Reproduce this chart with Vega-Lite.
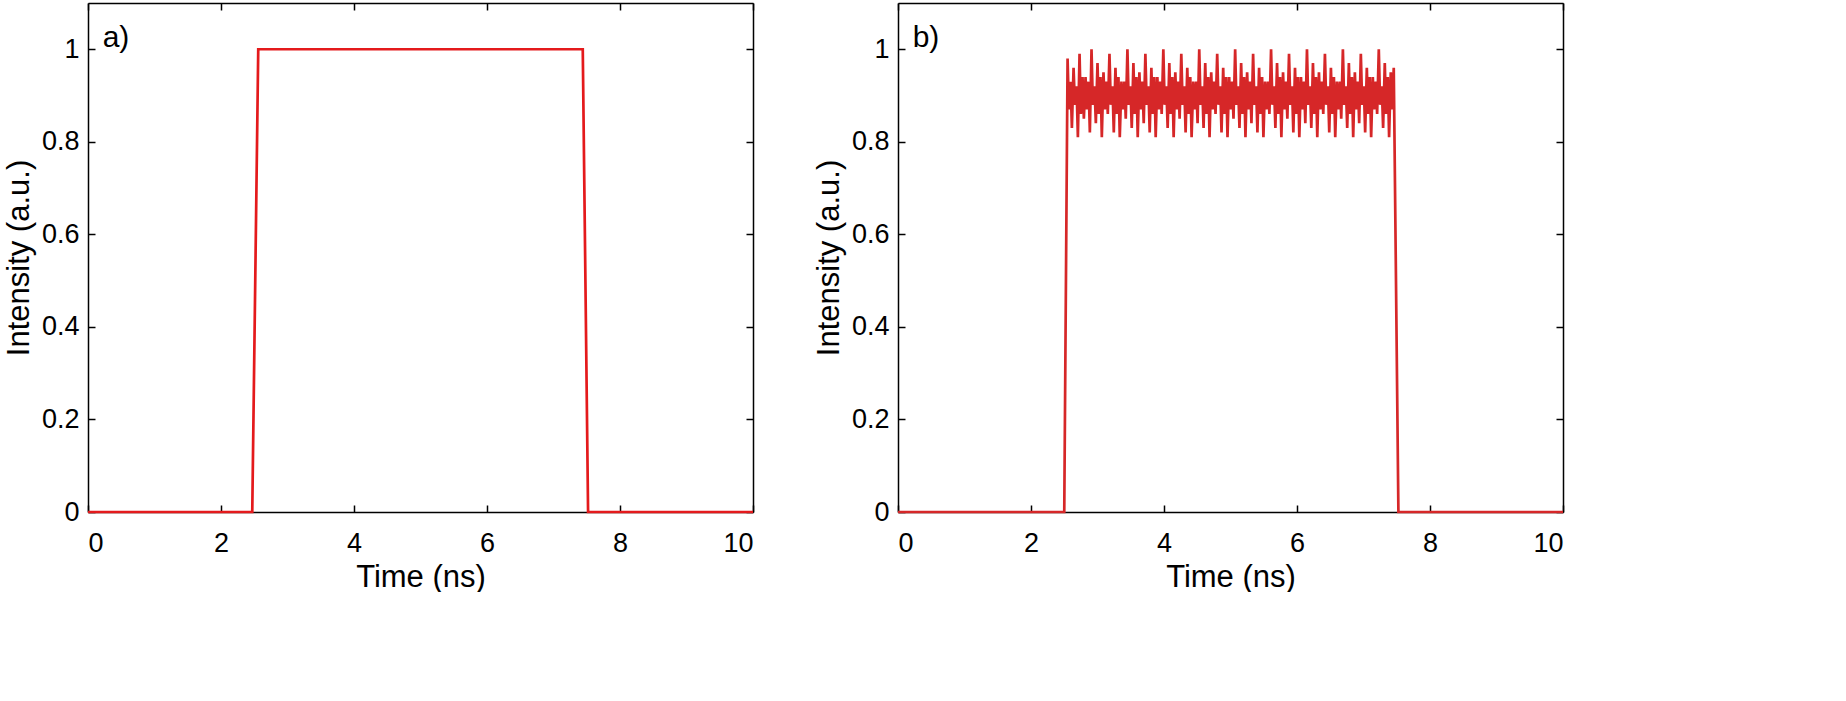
{
  "$schema": "https://vega.github.io/schema/vega-lite/v6.json",
  "background": "white",
  "padding": {"left": 3, "top": 2, "right": 0, "bottom": 0},
  "spacing": 54,
  "config": {
    "font": "Liberation Sans",
    "view": {"stroke": null},
    "axis": {
      "grid": false,
      "domainColor": "black",
      "domainWidth": 1.5,
      "tickColor": "black",
      "tickWidth": 1.5,
      "tickSize": -7,
      "labelColor": "black",
      "labelFontSize": 27,
      "titleColor": "black",
      "titleFontSize": 31,
      "titleFontWeight": "normal"
    },
    "axisX": {"labelPadding": 25, "titlePadding": 6},
    "axisY": {"labelPadding": 16, "titlePadding": 6}
  },
  "datasets": {
    "pulse": [
      {"t": 0, "v": 0}, {"t": 2.47, "v": 0}, {"t": 2.56, "v": 1},
      {"t": 7.44, "v": 1}, {"t": 7.52, "v": 0}, {"t": 10, "v": 0}
    ],
    "noisy": [
      {"t": 0, "v": 0}, {"t": 2.5, "v": 0},
      {"t": 2.55, "v": 0.98}, {"t": 2.57, "v": 0.87}, {"t": 2.595, "v": 0.93}, {"t": 2.615, "v": 0.83},
      {"t": 2.64, "v": 0.96}, {"t": 2.66, "v": 0.88}, {"t": 2.685, "v": 0.92}, {"t": 2.705, "v": 0.81},
      {"t": 2.73, "v": 0.99}, {"t": 2.75, "v": 0.86}, {"t": 2.775, "v": 0.94}, {"t": 2.795, "v": 0.85},
      {"t": 2.82, "v": 0.94}, {"t": 2.84, "v": 0.87}, {"t": 2.865, "v": 0.93}, {"t": 2.885, "v": 0.82},
      {"t": 2.91, "v": 1.0}, {"t": 2.93, "v": 0.88}, {"t": 2.955, "v": 0.92}, {"t": 2.975, "v": 0.84},
      {"t": 3.0, "v": 0.97}, {"t": 3.02, "v": 0.86}, {"t": 3.045, "v": 0.94}, {"t": 3.065, "v": 0.81},
      {"t": 3.09, "v": 0.95}, {"t": 3.11, "v": 0.87}, {"t": 3.135, "v": 0.93}, {"t": 3.155, "v": 0.86},
      {"t": 3.18, "v": 0.99}, {"t": 3.2, "v": 0.88}, {"t": 3.225, "v": 0.92}, {"t": 3.245, "v": 0.82},
      {"t": 3.27, "v": 0.96}, {"t": 3.29, "v": 0.86}, {"t": 3.315, "v": 0.94}, {"t": 3.335, "v": 0.81},
      {"t": 3.36, "v": 0.93}, {"t": 3.38, "v": 0.87}, {"t": 3.405, "v": 0.93}, {"t": 3.425, "v": 0.85},
      {"t": 3.45, "v": 1.0}, {"t": 3.47, "v": 0.88}, {"t": 3.495, "v": 0.92}, {"t": 3.515, "v": 0.83},
      {"t": 3.54, "v": 0.97}, {"t": 3.56, "v": 0.86}, {"t": 3.585, "v": 0.94}, {"t": 3.605, "v": 0.81},
      {"t": 3.63, "v": 0.95}, {"t": 3.65, "v": 0.87}, {"t": 3.675, "v": 0.93}, {"t": 3.695, "v": 0.84},
      {"t": 3.72, "v": 0.99}, {"t": 3.74, "v": 0.88}, {"t": 3.765, "v": 0.92}, {"t": 3.785, "v": 0.82},
      {"t": 3.81, "v": 0.96}, {"t": 3.83, "v": 0.86}, {"t": 3.855, "v": 0.94}, {"t": 3.875, "v": 0.81},
      {"t": 3.9, "v": 0.94}, {"t": 3.92, "v": 0.87}, {"t": 3.945, "v": 0.93}, {"t": 3.965, "v": 0.86},
      {"t": 3.99, "v": 1.0}, {"t": 4.01, "v": 0.88}, {"t": 4.035, "v": 0.92}, {"t": 4.055, "v": 0.83},
      {"t": 4.08, "v": 0.97}, {"t": 4.1, "v": 0.86}, {"t": 4.125, "v": 0.94}, {"t": 4.145, "v": 0.81},
      {"t": 4.17, "v": 0.95}, {"t": 4.19, "v": 0.87}, {"t": 4.215, "v": 0.93}, {"t": 4.235, "v": 0.85},
      {"t": 4.26, "v": 0.99}, {"t": 4.28, "v": 0.88}, {"t": 4.305, "v": 0.92}, {"t": 4.325, "v": 0.82},
      {"t": 4.35, "v": 0.96}, {"t": 4.37, "v": 0.86}, {"t": 4.395, "v": 0.94}, {"t": 4.415, "v": 0.81},
      {"t": 4.44, "v": 0.93}, {"t": 4.46, "v": 0.87}, {"t": 4.485, "v": 0.93}, {"t": 4.505, "v": 0.84},
      {"t": 4.53, "v": 1.0}, {"t": 4.55, "v": 0.88}, {"t": 4.575, "v": 0.92}, {"t": 4.595, "v": 0.83},
      {"t": 4.62, "v": 0.97}, {"t": 4.64, "v": 0.86}, {"t": 4.665, "v": 0.94}, {"t": 4.685, "v": 0.81},
      {"t": 4.71, "v": 0.95}, {"t": 4.73, "v": 0.87}, {"t": 4.755, "v": 0.93}, {"t": 4.775, "v": 0.86},
      {"t": 4.8, "v": 0.99}, {"t": 4.82, "v": 0.88}, {"t": 4.845, "v": 0.92}, {"t": 4.865, "v": 0.82},
      {"t": 4.89, "v": 0.96}, {"t": 4.91, "v": 0.86}, {"t": 4.935, "v": 0.94}, {"t": 4.955, "v": 0.81},
      {"t": 4.98, "v": 0.94}, {"t": 5.0, "v": 0.87}, {"t": 5.025, "v": 0.93}, {"t": 5.045, "v": 0.85},
      {"t": 5.07, "v": 1.0}, {"t": 5.09, "v": 0.88}, {"t": 5.115, "v": 0.92}, {"t": 5.135, "v": 0.83},
      {"t": 5.16, "v": 0.97}, {"t": 5.18, "v": 0.86}, {"t": 5.205, "v": 0.94}, {"t": 5.225, "v": 0.81},
      {"t": 5.25, "v": 0.95}, {"t": 5.27, "v": 0.87}, {"t": 5.295, "v": 0.93}, {"t": 5.315, "v": 0.84},
      {"t": 5.34, "v": 0.99}, {"t": 5.36, "v": 0.88}, {"t": 5.385, "v": 0.92}, {"t": 5.405, "v": 0.82},
      {"t": 5.43, "v": 0.96}, {"t": 5.45, "v": 0.86}, {"t": 5.475, "v": 0.94}, {"t": 5.495, "v": 0.81},
      {"t": 5.52, "v": 0.93}, {"t": 5.54, "v": 0.87}, {"t": 5.565, "v": 0.93}, {"t": 5.585, "v": 0.86},
      {"t": 5.61, "v": 1.0}, {"t": 5.63, "v": 0.88}, {"t": 5.655, "v": 0.92}, {"t": 5.675, "v": 0.83},
      {"t": 5.7, "v": 0.97}, {"t": 5.72, "v": 0.86}, {"t": 5.745, "v": 0.94}, {"t": 5.765, "v": 0.81},
      {"t": 5.79, "v": 0.95}, {"t": 5.81, "v": 0.87}, {"t": 5.835, "v": 0.93}, {"t": 5.855, "v": 0.85},
      {"t": 5.88, "v": 0.99}, {"t": 5.9, "v": 0.88}, {"t": 5.925, "v": 0.92}, {"t": 5.945, "v": 0.82},
      {"t": 5.97, "v": 0.96}, {"t": 5.99, "v": 0.86}, {"t": 6.015, "v": 0.94}, {"t": 6.035, "v": 0.81},
      {"t": 6.06, "v": 0.94}, {"t": 6.08, "v": 0.87}, {"t": 6.105, "v": 0.93}, {"t": 6.125, "v": 0.84},
      {"t": 6.15, "v": 1.0}, {"t": 6.17, "v": 0.88}, {"t": 6.195, "v": 0.92}, {"t": 6.215, "v": 0.83},
      {"t": 6.24, "v": 0.97}, {"t": 6.26, "v": 0.86}, {"t": 6.285, "v": 0.94}, {"t": 6.305, "v": 0.81},
      {"t": 6.33, "v": 0.95}, {"t": 6.35, "v": 0.87}, {"t": 6.375, "v": 0.93}, {"t": 6.395, "v": 0.86},
      {"t": 6.42, "v": 0.99}, {"t": 6.44, "v": 0.88}, {"t": 6.465, "v": 0.92}, {"t": 6.485, "v": 0.82},
      {"t": 6.51, "v": 0.96}, {"t": 6.53, "v": 0.86}, {"t": 6.555, "v": 0.94}, {"t": 6.575, "v": 0.81},
      {"t": 6.6, "v": 0.93}, {"t": 6.62, "v": 0.87}, {"t": 6.645, "v": 0.93}, {"t": 6.665, "v": 0.85},
      {"t": 6.69, "v": 1.0}, {"t": 6.71, "v": 0.88}, {"t": 6.735, "v": 0.92}, {"t": 6.755, "v": 0.83},
      {"t": 6.78, "v": 0.97}, {"t": 6.8, "v": 0.86}, {"t": 6.825, "v": 0.94}, {"t": 6.845, "v": 0.81},
      {"t": 6.87, "v": 0.95}, {"t": 6.89, "v": 0.87}, {"t": 6.915, "v": 0.93}, {"t": 6.935, "v": 0.84},
      {"t": 6.96, "v": 0.99}, {"t": 6.98, "v": 0.88}, {"t": 7.005, "v": 0.92}, {"t": 7.025, "v": 0.82},
      {"t": 7.05, "v": 0.96}, {"t": 7.07, "v": 0.86}, {"t": 7.095, "v": 0.94}, {"t": 7.115, "v": 0.81},
      {"t": 7.14, "v": 0.94}, {"t": 7.16, "v": 0.87}, {"t": 7.185, "v": 0.93}, {"t": 7.205, "v": 0.86},
      {"t": 7.23, "v": 1.0}, {"t": 7.25, "v": 0.88}, {"t": 7.275, "v": 0.92}, {"t": 7.295, "v": 0.83},
      {"t": 7.32, "v": 0.97}, {"t": 7.34, "v": 0.86}, {"t": 7.365, "v": 0.94}, {"t": 7.385, "v": 0.81},
      {"t": 7.41, "v": 0.95}, {"t": 7.43, "v": 0.87}, {"t": 7.455, "v": 0.96},
      {"t": 7.525, "v": 0}, {"t": 10, "v": 0}
    ]
  },
  "hconcat": [
    {
      "width": 665,
      "height": 509,
      "resolve": {"scale": {"x": "independent", "y": "independent"}},
      "layer": [
        {
          "data": {"name": "pulse"},
          "mark": {"type": "line", "color": "#e41a1c", "strokeWidth": 2.7},
          "encoding": {
            "x": {"field": "t", "type": "quantitative", "scale": {"domain": [0, 10], "nice": false},
                  "axis": {"orient": "bottom", "values": [0, 2, 4, 6, 8, 10], "format": "d", "title": "Time (ns)"}},
            "y": {"field": "v", "type": "quantitative", "scale": {"domain": [0, 1.1], "nice": false},
                  "axis": {"orient": "left", "values": [0, 0.2, 0.4, 0.6, 0.8, 1], "format": "~g", "title": "Intensity (a.u.)"}}
          }
        },
        {
          "data": {"name": "pulse"},
          "mark": {"type": "line", "strokeOpacity": 0},
          "encoding": {
            "x": {"field": "t", "type": "quantitative", "scale": {"domain": [0, 10], "nice": false},
                  "axis": {"orient": "top", "values": [0, 2, 4, 6, 8, 10], "labels": false, "title": null}},
            "y": {"field": "v", "type": "quantitative", "scale": {"domain": [0, 1.1], "nice": false},
                  "axis": {"orient": "right", "values": [0, 0.2, 0.4, 0.6, 0.8, 1], "labels": false, "title": null}}
          }
        },
        {
          "data": {"values": [{"t": 0.22, "v": 1.025, "label": "a)"}]},
          "mark": {"type": "text", "align": "left", "baseline": "middle", "fontSize": 30, "color": "black"},
          "encoding": {
            "x": {"field": "t", "type": "quantitative", "scale": {"domain": [0, 10], "nice": false}, "axis": null},
            "y": {"field": "v", "type": "quantitative", "scale": {"domain": [0, 1.1], "nice": false}, "axis": null},
            "text": {"field": "label"}
          }
        }
      ]
    },
    {
      "width": 665,
      "height": 509,
      "resolve": {"scale": {"x": "independent", "y": "independent"}},
      "layer": [
        {
          "data": {"name": "noisy"},
          "mark": {"type": "line", "color": "#d62728", "strokeWidth": 2.7},
          "encoding": {
            "x": {"field": "t", "type": "quantitative", "scale": {"domain": [0, 10], "nice": false},
                  "axis": {"orient": "bottom", "values": [0, 2, 4, 6, 8, 10], "format": "d", "title": "Time (ns)"}},
            "y": {"field": "v", "type": "quantitative", "scale": {"domain": [0, 1.1], "nice": false},
                  "axis": {"orient": "left", "values": [0, 0.2, 0.4, 0.6, 0.8, 1], "format": "~g", "title": "Intensity (a.u.)"}}
          }
        },
        {
          "data": {"name": "noisy"},
          "mark": {"type": "line", "strokeOpacity": 0},
          "encoding": {
            "x": {"field": "t", "type": "quantitative", "scale": {"domain": [0, 10], "nice": false},
                  "axis": {"orient": "top", "values": [0, 2, 4, 6, 8, 10], "labels": false, "title": null}},
            "y": {"field": "v", "type": "quantitative", "scale": {"domain": [0, 1.1], "nice": false},
                  "axis": {"orient": "right", "values": [0, 0.2, 0.4, 0.6, 0.8, 1], "labels": false, "title": null}}
          }
        },
        {
          "data": {"values": [{"t": 0.22, "v": 1.025, "label": "b)"}]},
          "mark": {"type": "text", "align": "left", "baseline": "middle", "fontSize": 30, "color": "black"},
          "encoding": {
            "x": {"field": "t", "type": "quantitative", "scale": {"domain": [0, 10], "nice": false}, "axis": null},
            "y": {"field": "v", "type": "quantitative", "scale": {"domain": [0, 1.1], "nice": false}, "axis": null},
            "text": {"field": "label"}
          }
        }
      ]
    }
  ]
}
